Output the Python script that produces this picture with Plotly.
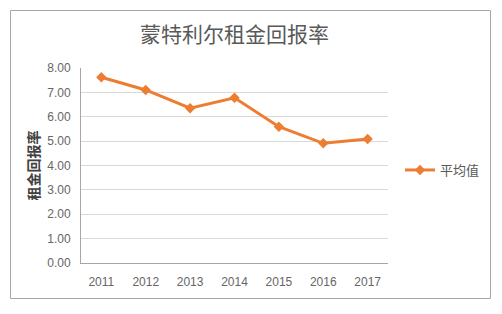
import plotly.graph_objects as go

years = ["2011", "2012", "2013", "2014", "2015", "2016", "2017"]
values = [7.62, 7.10, 6.35, 6.78, 5.59, 4.91, 5.09]
series_name = "平均值"
title = "蒙特利尔租金回报率"
y_title = "租金回报率"
y_ticks = [0, 1, 2, 3, 4, 5, 6, 7, 8]

W, H = 502, 314
L, R, T, B = 81, 114, 68, 51
pw, ph = W - L - R, H - T - B

def px2x(px):
    return (px - L) / pw

def py2y(py):
    return (H - B - py) / ph

fig = go.Figure()
fig.add_trace(go.Scatter(
    x=years, y=values, name=series_name, mode="lines+markers",
    line=dict(color="#ED7D31", width=3),
    marker=dict(symbol="diamond", size=8, color="#ED7D31"),
))

tick_font = dict(size=12, color="#666666", family="Liberation Sans, DejaVu Sans")

fig.update_layout(
    width=W, height=H,
    margin=dict(l=L, r=R, t=T, b=B),
    paper_bgcolor="white", plot_bgcolor="white",
    font=dict(family="Noto Sans CJK SC, DejaVu Sans", color="#595959", size=11),
    title=dict(text=title, x=0.5, xref="paper", xanchor="center",
               y=1 - 35 / H, yanchor="middle",
               font=dict(size=21, color="#595959", family="Noto Sans CJK SC")),
    xaxis=dict(type="category", showgrid=False, showline=True, linecolor="#a6a6a6",
               linewidth=1, ticks="", tickfont=tick_font, ticklabelstandoff=8,
               fixedrange=True),
    yaxis=dict(range=[0, 8], tickvals=y_ticks, tickformat=".2f",
               showgrid=True, gridcolor="#d9d9d9", gridwidth=1,
               showline=True, linecolor="#a6a6a6", linewidth=1, ticks="",
               zeroline=False, tickfont=tick_font, ticklabelstandoff=7,
               title=dict(text="<b>" + y_title + "</b>", standoff=4,
                          font=dict(size=14, color="#404040", family="Noto Sans CJK SC"))),
    showlegend=True,
    legend=dict(x=px2x(400), y=py2y(170), xanchor="left", yanchor="middle",
                font=dict(size=13, color="#595959", family="Noto Sans CJK SC"),
                bgcolor="rgba(0,0,0,0)"),
    shapes=[dict(type="rect", xref="paper", yref="paper",
                 x0=px2x(10.5), x1=px2x(490.5), y0=py2y(298.5), y1=py2y(10.5),
                 line=dict(color="#a6a6a6", width=1), layer="below")],
)

fig.write_html("out.html")
